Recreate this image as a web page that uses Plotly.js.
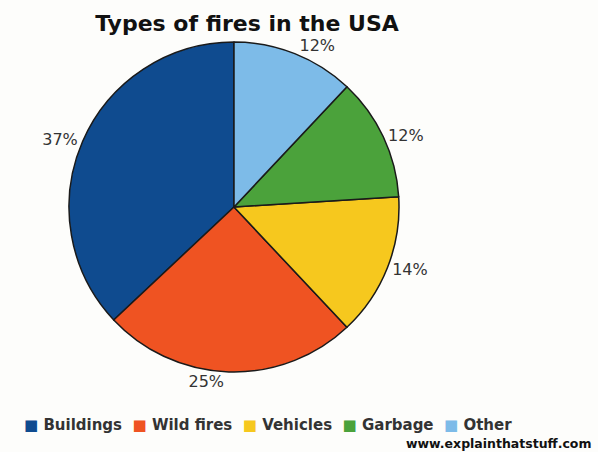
<!DOCTYPE html>
<html>
<head>
<meta charset="utf-8">
<script src="https://cdn.plot.ly/plotly-3.0.1.min.js"></script>
<style>html,body{margin:0;padding:0;background:#fdfdfb;}#chart{width:598px;height:452px;}</style>
</head>
<body>
<div id="chart"></div>
<script>
var categories = ["Buildings", "Wild fires", "Vehicles", "Garbage", "Other"];
var shares = [37, 25, 14, 12, 12];
var colors = ["#0f4b8f", "#ef5322", "#f6c81e", "#4ba23b", "#7dbbe8"];
var titleText = "Types of fires in the USA";
var sourceText = "www.explainthatstuff.com";

var W = 598, H = 452;
var cx = 234, cy = 207, r = 165;

// first slice starts at 12 o'clock and runs counterclockwise
var total = shares.reduce(function (a, b) { return a + b; }, 0);
var startRotation = -360 * shares[0] / total;

var trace = {
  type: "pie",
  labels: categories,
  values: shares,
  sort: false,
  direction: "counterclockwise",
  rotation: startRotation,
  marker: {colors: colors, line: {color: "#1a1a1a", width: 1.5}},
  textinfo: "percent",
  textposition: "outside",
  outsidetextfont: {family: "DejaVu Sans", size: 16, color: "#333333"},
  domain: {x: [(cx - r) / W, (cx + r) / W], y: [1 - (cy + r) / H, 1 - (cy - r) / H]},
  hoverinfo: "label+percent",
  showlegend: false
};

var legendHtml = categories.map(function (c, i) {
  return '<span style="color:' + colors[i] + '">\u25A0</span>\u00A0' + c;
}).join('\u00A0\u00A0');

var layout = {
  width: W, height: H,
  margin: {l: 0, r: 0, t: 0, b: 0},
  paper_bgcolor: "#fdfdfb",
  plot_bgcolor: "#fdfdfb",
  showlegend: false,
  title: {
    text: titleText,
    font: {family: "DejaVu Sans", size: 22, weight: 700, color: "#111111"},
    x: 247 / W, xanchor: "center", xref: "paper",
    y: 1 - 23 / H, yanchor: "middle", yref: "container"
  },
  annotations: [
    {
      text: legendHtml, showarrow: false, xref: "paper", yref: "paper",
      x: 22 / W, xanchor: "left", y: 1 - 425 / H, yanchor: "middle",
      font: {family: "DejaVu Sans", size: 15, weight: 700, color: "#333333"}
    },
    {
      text: sourceText, showarrow: false, xref: "paper", yref: "paper",
      x: 593 / W, xanchor: "right", y: 1 - 443 / H, yanchor: "middle",
      font: {family: "DejaVu Sans", size: 12.5, weight: 700, color: "#111111"}
    }
  ]
};

Plotly.newPlot("chart", [trace], layout, {displayModeBar: false, staticPlot: true});
</script>
</body>
</html>
